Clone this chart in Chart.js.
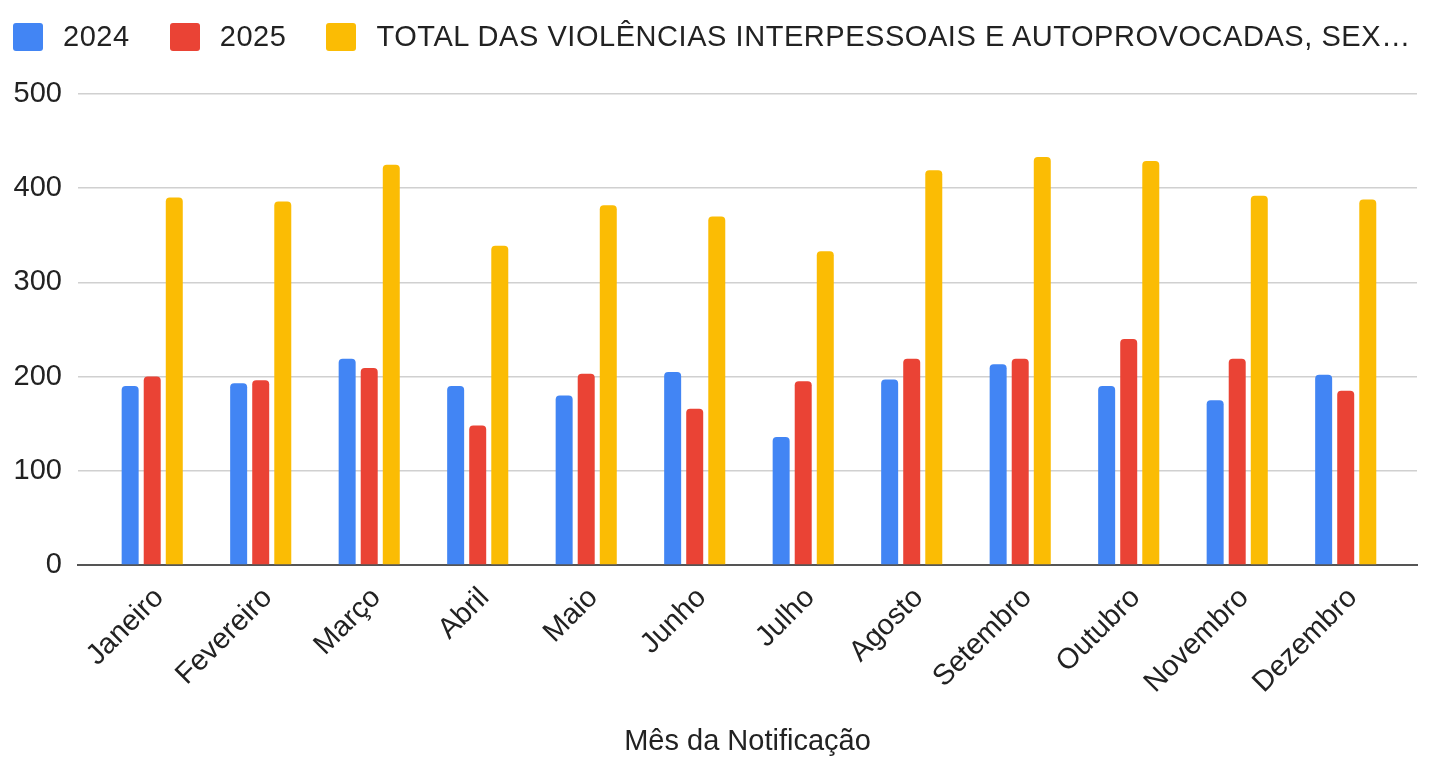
<!DOCTYPE html>
<html lang="pt">
<head>
  <meta charset="UTF-8">
  <title>Violências por mês da notificação</title>
  <script src="https://cdn.jsdelivr.net/npm/chart.js"></script>
  <style>
    body {
      margin: 0;
      background: #fff;
      font-family: "Liberation Sans", Arial, sans-serif;
      color: #222;
    }
    #wrap {
      position: relative;
      width: 1431px;
      height: 760px;
    }
    #grafico {
      position: absolute;
      left: 0;
      top: 0;
    }
    #legenda {
      position: absolute;
      left: 13px;
      top: 20px;
      display: flex;
      align-items: center;
      font-size: 29px;
      letter-spacing: 0.55px;
      white-space: nowrap;
    }
    #legenda .item {
      display: flex;
      align-items: center;
      margin-right: 40px;
    }
    #legenda .caixa {
      width: 30px;
      height: 28px;
      border-radius: 3px;
      margin-right: 20px;
    }
  </style>
</head>
<body>
  <div id="wrap">
    <canvas id="grafico" width="1431" height="760"></canvas>
    <div id="legenda"></div>
  </div>

  <script>
    const meses = ['Janeiro', 'Fevereiro', 'Março', 'Abril', 'Maio', 'Junho',
                   'Julho', 'Agosto', 'Setembro', 'Outubro', 'Novembro', 'Dezembro'];
    const valores2024 = [190, 193, 219, 190, 180, 205, 136, 197, 213, 190, 175, 202];
    const valores2025 = [200, 196, 209, 148, 203, 166, 195, 219, 219, 240, 219, 185];
    const valoresTotal = [390, 386, 425, 339, 382, 370, 333, 419, 433, 429, 392, 388];
    const ticksY = [0, 100, 200, 300, 400, 500];

    const rotuloTotal = 'TOTAL DAS VIOLÊNCIAS INTERPESSOAIS E AUTOPROVOCADAS, SEX…';
    const fonte = '"Liberation Sans", Arial, sans-serif';

    // pontos {x: índice do mês, y: valor}
    const pontos = arr => arr.map((v, i) => ({ x: i, y: v }));

    const barra = {
      borderRadius: 4,
      borderSkipped: 'start',
      categoryPercentage: 0.61,
      barPercentage: 0.77
    };

    const chart = new Chart(document.getElementById('grafico'), {
      type: 'bar',
      data: {
        datasets: [
          { label: '2024', data: pontos(valores2024), backgroundColor: '#4285F4', ...barra },
          { label: '2025', data: pontos(valores2025), backgroundColor: '#EA4335', ...barra },
          { label: rotuloTotal, data: pontos(valoresTotal), backgroundColor: '#FBBC04', ...barra }
        ]
      },
      options: {
        responsive: false,
        animation: false,
        layout: { padding: { top: 94, right: 14, left: 0, bottom: 0 } },
        plugins: {
          legend: { display: false },
          tooltip: { enabled: false }
        },
        scales: {
          x: {
            type: 'linear',
            offset: false,
            bounds: 'data',
            min: -0.684,
            max: 11.657,
            afterFit: s => { s.height = 195; },
            afterBuildTicks: s => { s.ticks = meses.map((m, i) => ({ value: i })); },
            grid: { display: false },
            border: { display: true, color: '#555', width: 2 },
            ticks: {
              autoSkip: false,
              minRotation: 45,
              maxRotation: 45,
              padding: 8,
              labelOffset: 7,
              color: '#222',
              font: { family: fonte, size: 29 },
              callback: v => meses[v]
            },
            title: {
              display: true,
              text: 'Mês da Notificação',
              color: '#222',
              font: { family: fonte, size: 29 },
              padding: { top: 4, bottom: 1 }
            }
          },
          y: {
            min: 0,
            max: 500,
            afterFit: s => { s.width = 78; },
            afterBuildTicks: s => { s.ticks = ticksY.map(v => ({ value: v })); },
            grid: { color: '#d0d0d0', lineWidth: 1.5, drawTicks: false },
            border: { display: false },
            ticks: {
              padding: 16,
              color: '#222',
              font: { family: fonte, size: 29 }
            }
          }
        }
      }
    });

    // legenda em HTML, gerada a partir dos datasets
    const legenda = document.getElementById('legenda');
    chart.data.datasets.forEach(ds => {
      const item = document.createElement('div');
      item.className = 'item';
      const caixa = document.createElement('span');
      caixa.className = 'caixa';
      caixa.style.background = ds.backgroundColor;
      const texto = document.createElement('span');
      texto.textContent = ds.label;
      item.appendChild(caixa);
      item.appendChild(texto);
      legenda.appendChild(item);
    });
  </script>
</body>
</html>
